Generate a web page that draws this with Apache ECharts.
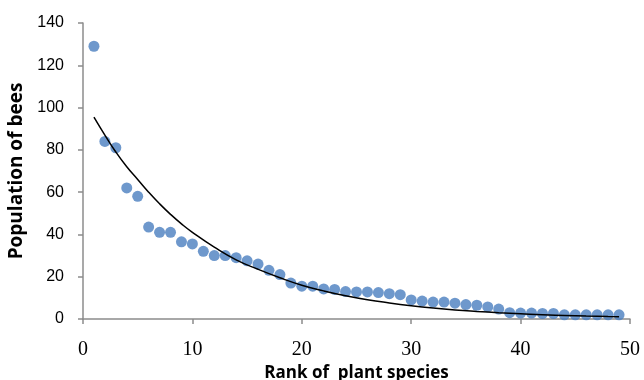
<!DOCTYPE html>
<html>
<head>
<meta charset="utf-8">
<script src="https://cdn.jsdelivr.net/npm/echarts@6/dist/echarts.min.js"></script>
<style>
  html, body { margin: 0; padding: 0; background: #fff; }
  #chart { width: 644px; height: 380px; }
</style>
</head>
<body>
<div id="chart"></div>
<script>
// Rank of plant species and observed bee populations
const ranks = [1, 2, 3, 4, 5, 6, 7, 8, 9, 10, 11, 12, 13, 14, 15, 16, 17, 18, 19, 20,
  21, 22, 23, 24, 25, 26, 27, 28, 29, 30, 31, 32, 33, 34, 35, 36, 37, 38, 39, 40,
  41, 42, 43, 44, 45, 46, 47, 48, 49];
const bees = [129, 84, 81, 62, 58, 43.5, 41, 41, 36.5, 35.5, 32, 30, 30, 29, 27.5, 26, 23, 21, 17, 15.5,
  15.5, 14.2, 14, 13, 12.8, 12.8, 12.5, 12, 11.5, 9, 8.5, 8, 8, 7.5, 6.8, 6.5, 5.7, 4.7, 3, 2.8,
  2.8, 2.6, 2.6, 2, 2, 2, 2, 2, 2];

// Trend line
const trendX = [1, 2, 3, 4, 5, 6, 7, 8, 9, 10, 12, 14, 16, 18, 20, 22, 24, 26, 28, 30,
  32, 34, 36, 38, 40, 42, 44, 46, 48, 49];
const trendY = [95.5, 87, 79, 72, 66, 60, 54.5, 49.5, 45, 41, 34, 28, 23.5, 19.5, 16, 13.3, 11, 9.1, 7.6, 6.3,
  5.2, 4.3, 3.6, 3, 2.5, 2, 1.7, 1.4, 1.2, 1.1];

const xTicks = { min: 0, max: 50, step: 10 };
const yTicks = { min: 0, max: 140, step: 20 };

const chart = echarts.init(document.getElementById("chart"));

const axisLine = { show: true, lineStyle: { color: "#8c8c8c", width: 1.5 } };
const axisTick = { show: true, length: 5, lineStyle: { color: "#8c8c8c", width: 1.5 } };

chart.setOption({
  animation: false,
  grid: { left: 83, right: 14, top: 23, bottom: 61, containLabel: false, outerBoundsMode: "none" },
  xAxis: {
    type: "value",
    min: xTicks.min,
    max: xTicks.max,
    interval: xTicks.step,
    name: "Rank of  plant species",
    nameLocation: "middle",
    nameGap: 43,
    nameTextStyle: { fontFamily: "Open Sans", fontWeight: "bold", fontSize: 17, color: "#000" },
    axisLine: axisLine,
    axisTick: axisTick,
    splitLine: { show: false },
    axisLabel: { fontFamily: "Liberation Serif", fontSize: 20, color: "#000", margin: 21 }
  },
  yAxis: {
    type: "value",
    min: yTicks.min,
    max: yTicks.max,
    interval: yTicks.step,
    name: "Population of bees",
    nameLocation: "middle",
    nameGap: 51,
    nameTextStyle: { fontFamily: "Open Sans", fontWeight: "bold", fontSize: 19, color: "#000" },
    axisLine: axisLine,
    axisTick: axisTick,
    splitLine: { show: false },
    axisLabel: { fontFamily: "Liberation Sans", fontSize: 16, color: "#000", margin: 19 }
  },
  series: [
    {
      name: "Bees",
      type: "scatter",
      symbolSize: 11,
      itemStyle: { color: "#4a7ebf" },
      data: ranks.map((r, i) => [r, bees[i]]),
      z: 2
    },
    {
      name: "Trend",
      type: "line",
      smooth: true,
      showSymbol: false,
      lineStyle: { color: "#000", width: 1.5 },
      data: trendX.map((x, i) => [x, trendY[i]]),
      z: 3
    }
  ]
});
</script>
</body>
</html>
